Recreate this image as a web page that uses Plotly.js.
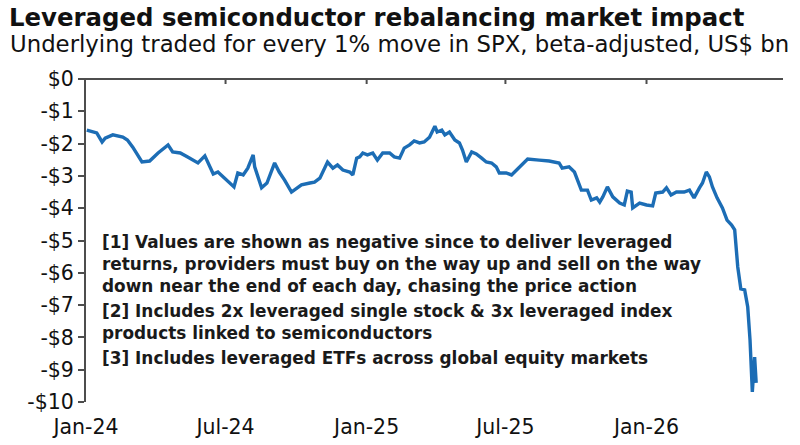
<!DOCTYPE html>
<html>
<head>
<meta charset="utf-8">
<script src="https://cdn.plot.ly/plotly-3.0.1.min.js"></script>
<style>
  html, body { margin: 0; padding: 0; background: #ffffff; }
  #chart { width: 800px; height: 445px; }
</style>
</head>
<body>
<div id="chart"></div>
<script>
// Dates and market impact (US$ bn per 1% SPX move, beta-adjusted)
const dates = [
  '2024-01-02','2024-01-15','2024-01-22','2024-01-26','2024-02-05','2024-02-18','2024-02-24',
  '2024-03-02','2024-03-14','2024-03-24','2024-04-04','2024-04-17','2024-04-23','2024-05-03',
  '2024-05-12','2024-05-26','2024-06-04','2024-06-08','2024-06-15','2024-06-21','2024-07-03',
  '2024-07-12','2024-07-17','2024-07-24','2024-07-30','2024-08-06','2024-08-08','2024-08-17',
  '2024-08-24','2024-09-03','2024-09-09','2024-09-16','2024-09-25','2024-10-02','2024-10-08',
  '2024-10-19','2024-10-25','2024-11-01','2024-11-11','2024-11-18','2024-11-24','2024-12-01',
  '2024-12-10','2024-12-14','2024-12-19','2024-12-23','2024-12-27','2025-01-02','2025-01-09',
  '2025-01-15','2025-01-22','2025-01-31','2025-02-06','2025-02-13','2025-02-19','2025-02-26',
  '2025-03-04','2025-03-11','2025-03-17','2025-03-24','2025-03-31','2025-04-03','2025-04-09',
  '2025-04-13','2025-04-19','2025-04-26','2025-05-02','2025-05-06','2025-05-11','2025-05-18',
  '2025-05-24','2025-05-31','2025-06-06','2025-06-13','2025-06-19','2025-06-23','2025-07-02',
  '2025-07-09','2025-07-15','2025-07-22','2025-07-30','2025-08-14','2025-08-27','2025-09-09',
  '2025-09-13','2025-09-22','2025-09-29','2025-10-08','2025-10-16','2025-10-21','2025-10-28',
  '2025-11-01','2025-11-05','2025-11-11','2025-11-18','2025-11-27','2025-12-03','2025-12-07',
  '2025-12-12','2025-12-14','2025-12-23','2026-01-01','2026-01-09','2026-01-13','2026-01-22',
  '2026-01-27','2026-02-02','2026-02-09','2026-02-19','2026-02-26','2026-03-04','2026-03-11',
  '2026-03-15','2026-03-20','2026-03-24','2026-03-28','2026-04-03','2026-04-10','2026-04-16',
  '2026-04-22','2026-04-26','2026-04-30','2026-05-04','2026-05-09','2026-05-13','2026-05-16',
  '2026-05-17','2026-05-19','2026-05-22','2026-05-24'
];
const impact = [
  -1.58,-1.67,-1.95,-1.83,-1.73,-1.80,-1.89,
  -2.11,-2.57,-2.54,-2.29,-2.04,-2.26,-2.29,
  -2.41,-2.60,-2.38,-2.60,-2.94,-2.88,-3.13,
  -3.34,-2.91,-2.97,-2.76,-2.35,-2.72,-3.37,
  -3.22,-2.60,-2.88,-3.13,-3.50,-3.37,-3.28,
  -3.22,-3.19,-3.07,-2.57,-2.76,-2.66,-2.82,
  -2.88,-2.97,-2.45,-2.41,-2.29,-2.35,-2.29,
  -2.51,-2.29,-2.29,-2.41,-2.45,-2.14,-2.04,
  -1.92,-1.98,-1.95,-1.80,-1.46,-1.64,-1.58,
  -1.73,-1.64,-1.89,-1.98,-2.20,-2.57,-2.26,
  -2.32,-2.45,-2.57,-2.60,-2.72,-2.91,-2.91,
  -2.97,-2.82,-2.66,-2.48,-2.51,-2.54,-2.60,
  -2.76,-2.72,-2.88,-3.44,-3.44,-3.75,-3.68,
  -3.81,-3.65,-3.34,-3.65,-3.84,-3.90,-3.47,
  -3.50,-3.99,-3.84,-3.90,-3.93,-3.53,-3.50,
  -3.37,-3.59,-3.50,-3.50,-3.44,-3.68,-3.37,
  -3.22,-2.88,-3.03,-3.34,-3.68,-3.99,-4.37,
  -4.52,-4.67,-5.82,-6.50,-6.53,-7.06,-8.08,
  -8.85,-9.69,-8.61,-9.41
];

// Axis ticks
const xTickDates = ['2024-01-01','2024-07-01','2025-01-01','2025-07-01','2026-01-01'];
const xTickLabels = ['Jan-24','Jul-24','Jan-25','Jul-25','Jan-26'];
const yTickVals = [0,-1,-2,-3,-4,-5,-6,-7,-8,-9,-10];
const yTickLabels = ['$0','-$1','-$2','-$3','-$4','-$5','-$6','-$7','-$8','-$9','-$10'];

// Text
const titleText = 'Leveraged semiconductor rebalancing market impact';
const subtitleText = 'Underlying traded for every 1% move in SPX, beta-adjusted, US$ bn';
const notes = [
  '[1] Values are shown as negative since to deliver leveraged<br>returns, providers must buy on the way up and sell on the way<br>down near the end of each day, chasing the price action',
  '[2] Includes 2x leveraged single stock &amp; 3x leveraged index<br>products linked to semiconductors',
  '[3] Includes leveraged ETFs across global equity markets'
];

// Page geometry
const W = 800, H = 445;
const M = { l: 86, r: 17, t: 79, b: 43 };
const plotW = W - M.l - M.r, plotH = H - M.t - M.b;
const px = x => (x - M.l) / plotW;          // page x -> paper x
const py = y => (H - M.b - y) / plotH;      // page y -> paper y

const FONT = 'DejaVu Sans, Arial, sans-serif';
const AXIS_COLOR = '#4d4d4d';
const xRange = ['2024-01-01', '2026-06-28'];

const trace = {
  x: dates,
  y: impact,
  type: 'scatter',
  mode: 'lines',
  line: { color: '#1c6db5', width: 3.4, shape: 'linear' },
  hoverinfo: 'skip'
};

// The $0 line across the top of the plot, with short ticks hanging below it
const tickDepth = 5 / plotH;
const shapes = [
  {
    type: 'line', xref: 'paper', yref: 'paper',
    x0: px(79), x1: 1, y0: 1, y1: 1,
    line: { color: AXIS_COLOR, width: 2 }
  }
].concat(xTickDates.slice(1).map(d => ({
  type: 'line', xref: 'x', yref: 'paper',
  x0: d, x1: d, y0: 1, y1: 1 - tickDepth,
  line: { color: AXIS_COLOR, width: 2 }
})));

const noteTops = [231, 300, 347];
const annotations = [
  {
    text: subtitleText,
    xref: 'paper', yref: 'paper',
    x: px(8), y: py(44),
    xanchor: 'left', yanchor: 'middle',
    showarrow: false,
    font: { family: FONT, size: 22.8, color: '#111111' }
  }
].concat(notes.map((t, i) => ({
  text: '<b>' + t.split('<br>').join('</b><br><b>') + '</b>',
  xref: 'paper', yref: 'paper',
  x: px(101), y: py(noteTops[i]),
  xanchor: 'left', yanchor: 'top',
  align: 'left',
  showarrow: false,
  borderpad: 0,
  font: { family: FONT, size: 16.9, color: '#1a1a1a' }
})));

const layout = {
  width: W,
  height: H,
  margin: M,
  paper_bgcolor: '#ffffff',
  plot_bgcolor: '#ffffff',
  showlegend: false,
  font: { family: FONT, color: '#111111' },
  title: {
    text: '<b>' + titleText + '</b>',
    xref: 'container', yref: 'container',
    x: 9 / W, xanchor: 'left',
    y: 1 - 17.5 / H, yanchor: 'middle',
    font: { family: FONT, size: 24.4, color: '#111111' }
  },
  xaxis: {
    type: 'date',
    range: xRange,
    tickvals: xTickDates,
    ticktext: xTickLabels,
    showline: false,
    showgrid: false,
    zeroline: false,
    ticks: 'outside',
    ticklen: 6,
    tickcolor: 'rgba(0,0,0,0)',
    tickfont: { family: FONT, size: 20.5, color: '#111111' },
    fixedrange: true
  },
  yaxis: {
    range: [-10, 0],
    tickvals: yTickVals,
    ticktext: yTickLabels,
    showline: true,
    linecolor: AXIS_COLOR,
    linewidth: 2,
    ticks: 'outside',
    ticklen: 6,
    tickwidth: 2,
    tickcolor: AXIS_COLOR,
    showgrid: false,
    zeroline: false,
    tickfont: { family: FONT, size: 20.5, color: '#111111' },
    fixedrange: true
  },
  shapes: shapes,
  annotations: annotations
};

Plotly.newPlot('chart', [trace], layout, { displayModeBar: false });
</script>
</body>
</html>
